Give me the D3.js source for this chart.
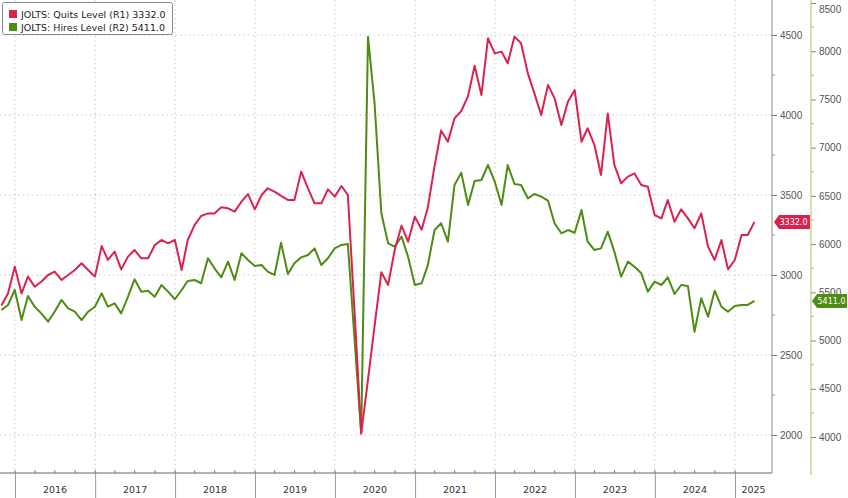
<!DOCTYPE html>
<html><head><meta charset="utf-8">
<script src="https://cdn.jsdelivr.net/npm/d3@7"></script>
<style>body{margin:0;background:#fff}svg{display:block;font-family:"DejaVu Sans",sans-serif}</style>
</head><body><svg id="c" width="848" height="498"></svg>
<script>
const startMonth = [2015, 9]; // Oct 2015 (month-end points)
const quits = [2810,2885,3052,2885,2990,2927,2958,3000,3021,2969,3000,3031,3073,3031,2990,3181,3094,3146,3035,3115,3156,3104,3104,3187,3219,3198,3219,3031,3219,3312,3369,3385,3385,3423,3417,3396,3458,3506,3410,3500,3542,3521,3494,3469,3469,3646,3542,3448,3448,3535,3490,3556,3500,
2762,2010,2346,2681,3017,2938,3156,3308,3208,3365,3283,3420,3680,3903,3833,3979,4025,4118,4308,4125,4479,4385,4396,4323,
4490,4448,4260,4135,4000,4188,4104,3938,4083,4156,3833,3917,3813,3625,4010,3688,3573,3615,3635,3563,3552,3375,3354,3469,3333,3410,3354,3292,3385,3177,3094,3219,3035,3094,3250,3250,3332];
const hires = [5317,5369,5524,5213,5462,5351,5282,5196,5299,5421,5334,5299,5213,5299,5351,5490,5351,5386,5282,5455,5635,5507,5517,5455,5576,5507,5428,5524,5618,5628,5594,5853,5749,5656,5818,5628,5905,5835,5773,5783,5714,5680,6015,5690,5801,5863,5887,5956,5783,5853,5956,5991,6001,
5000,4038,8151,7460,6320,6008,5973,6077,5870,5576,5594,5780,6146,6216,6025,6613,6740,6406,6655,6665,6820,6647,6406,6820,6623,6613,6475,6520,6492,6451,6216,6112,6146,6118,6354,6025,5939,5956,6129,5922,5662,5818,5766,5697,5507,5611,5576,5656,5483,5576,5566,5092,5438,5247,5517,5351,5299,5358,5369,5369,5411];
const years = [2016,2017,2018,2019,2020,2021,2022,2023,2024,2025];
const r1Ticks = [2000,2500,3000,3500,4000,4500];
const r2Ticks = [4000,4500,5000,5500,6000,6500,7000,7500,8000,8500];
const quitsLast = "3332.0", hiresLast = "5411.0";
const RED = "#d9234f", GREEN = "#4e8c14";

const svg = d3.select("#c");
const plotR = 772, plotB = 473, r2X = 811;
const dates = quits.map((_, i) => new Date(Date.UTC(startMonth[0], startMonth[1] + i + 1, 0)));
const x = d3.scaleUtc().domain([new Date(Date.UTC(2016,0,1)), new Date(Date.UTC(2025,0,1))]).range([15, 735]);
const y1 = d3.scaleLinear().domain([2000, 4500]).range([435, 35]);
const y2 = d3.scaleLinear().domain([4000, 8500]).range([437, 3]);

const g = svg.append("g");
g.append("defs").append("clipPath").attr("id","cp").append("rect").attr("x",0).attr("y",0).attr("width",plotR).attr("height",plotB);
g.selectAll(".hg").data(r1Ticks).join("line").attr("x1",0).attr("x2",plotR)
 .attr("y1",d=>y1(d)).attr("y2",d=>y1(d)).attr("stroke","#c8c8c8").attr("stroke-dasharray","1.5,3");
g.selectAll(".vg").data(years).join("line").attr("x1",d=>x(new Date(Date.UTC(d,0,1)))).attr("x2",d=>x(new Date(Date.UTC(d,0,1))))
 .attr("y1",0).attr("y2",plotB).attr("stroke","#c8c8c8").attr("stroke-dasharray","1.5,3");
g.append("line").attr("x1",0).attr("x2",plotR).attr("y1",plotB).attr("y2",plotB).attr("stroke","#666");
g.append("line").attr("x1",plotR).attr("x2",plotR).attr("y1",0).attr("y2",plotB).attr("stroke","#888");
g.append("line").attr("x1",r2X).attr("x2",r2X).attr("y1",0).attr("y2",475).attr("stroke","#c9d49a").attr("stroke-width",1.5);
const xa = svg.append("g").attr("transform",`translate(0,${plotB})`)
 .call(d3.axisBottom(x).tickValues(years.map(d=>new Date(Date.UTC(d,0,1)))).tickSize(25).tickFormat(""));
xa.select(".domain").remove();
xa.selectAll(".tick line").attr("stroke","#999");
const qTicks = d3.utcMonth.every(3).range(new Date(Date.UTC(2015,9,1)), new Date(Date.UTC(2025,3,1)));
svg.append("g").selectAll("line").data(qTicks).join("line").attr("x1",d=>x(d)).attr("x2",d=>x(d))
 .attr("y1",plotB-3).attr("y2",plotB).attr("stroke","#777");
svg.append("g").selectAll("text").data(years).join("text")
 .attr("x",d=> d===2025 ? (x(new Date(Date.UTC(d,0,1)))+plotR)/2 : x(new Date(Date.UTC(d,0,1)))+40)
 .attr("y",493).attr("text-anchor","middle").attr("font-size",9.5).attr("fill","#333").text(d=>d);
const a1 = svg.append("g").attr("transform",`translate(${plotR},0)`)
 .call(d3.axisRight(y1).tickValues(r1Ticks).tickSize(5).tickPadding(3).tickFormat(d3.format("d")));
a1.select(".domain").remove();
a1.selectAll("text").attr("font-size",10).attr("fill","#555");
a1.selectAll("line").attr("stroke","#777");
svg.append("g").selectAll("line").data(d3.range(2250,4500,500)).join("line")
 .attr("x1",plotR).attr("x2",plotR+3).attr("y1",d=>y1(d)).attr("y2",d=>y1(d)).attr("stroke","#999");
const a2 = svg.append("g").attr("transform",`translate(${r2X},0)`)
 .call(d3.axisRight(y2).tickValues(r2Ticks).tickSize(5).tickPadding(3).tickFormat(d3.format("d")));
a2.select(".domain").remove();
a2.selectAll("text").attr("font-size",10).attr("fill","#555");
a2.selectAll(".tick").filter(d=>d===8500).select("text").attr("dy","0.9em");
a2.selectAll("line").attr("stroke","#8a9a40");
svg.append("g").selectAll("line").data(d3.range(4250,8500,500)).join("line")
 .attr("x1",r2X).attr("x2",r2X+3).attr("y1",d=>y2(d)).attr("y2",d=>y2(d)).attr("stroke","#b0b880");
const lg = svg.append("g").attr("clip-path","url(#cp)");
lg.append("path").datum(hires).attr("fill","none").attr("stroke",GREEN).attr("stroke-width",2)
 .attr("stroke-linejoin","round").attr("d",d3.line().x((d,i)=>x(dates[i])).y(d=>y2(d)));
lg.append("path").datum(quits).attr("fill","none").attr("stroke",RED).attr("stroke-width",2)
 .attr("stroke-linejoin","round").attr("d",d3.line().x((d,i)=>x(dates[i])).y(d=>y1(d)));
function tag(xl, yc, w, col, txt){
  const t = svg.append("g");
  t.append("path").attr("d",`M${xl},${yc} L${xl+5},${yc-7} L${xl+w},${yc-7} L${xl+w},${yc+7} L${xl+5},${yc+7} Z`).attr("fill",col);
  t.append("text").attr("x",xl+5.5).attr("y",yc+3).attr("font-size",8).attr("fill","#fff").text(txt);
}
tag(plotR+2, y1(quits[quits.length-1]), 36, RED, quitsLast);
tag(r2X+1, y2(hires[hires.length-1]), 35, GREEN, hiresLast);
const L = svg.append("g");
L.append("rect").attr("x",2.5).attr("y",2.5).attr("width",170).attr("height",32).attr("rx",2).attr("fill","#fff").attr("stroke","#888");
[[RED,`JOLTS: Quits Level (R1) ${quitsLast}`],[GREEN,`JOLTS: Hires Level (R2) ${hiresLast}`]].forEach((d,i)=>{
  L.append("rect").attr("x",9).attr("y",10+i*13).attr("width",8).attr("height",8).attr("fill",d[0]);
  L.append("text").attr("x",21).attr("y",17.5+i*13).attr("font-size",9.5).attr("fill","#222").text(d[1]);
});
</script></body></html>
